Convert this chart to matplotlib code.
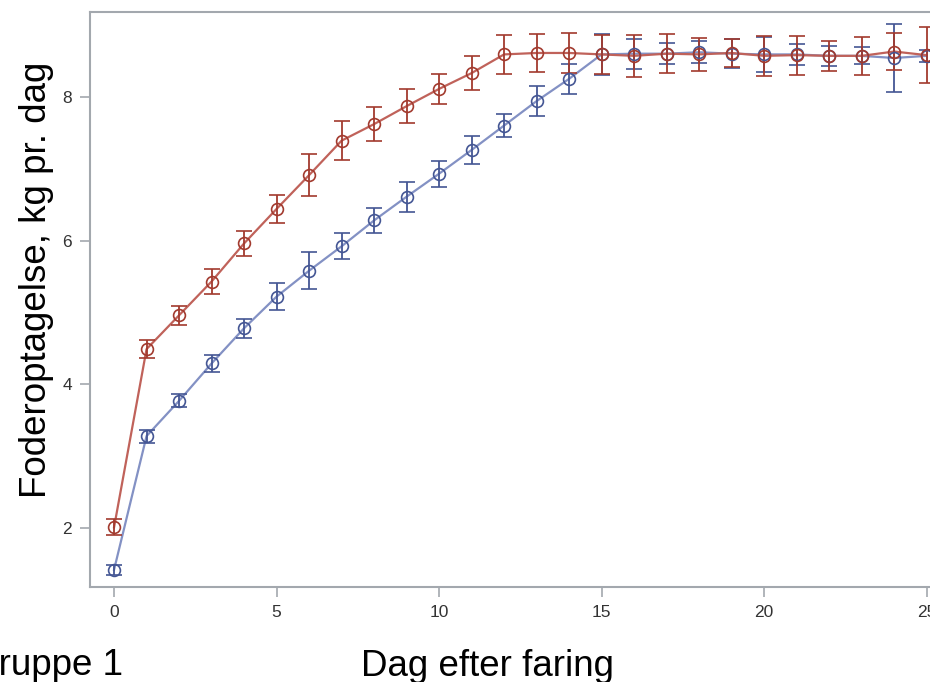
import matplotlib.pyplot as plt

plt.rcParams["font.family"] = ["Liberation Sans", "DejaVu Sans"]

# days after farrowing
days = list(range(26))

# group A (red) – mean feed intake and error half-width
red_mean = [2.01, 4.49, 4.96, 5.43, 5.96, 6.44, 6.91, 7.39, 7.62, 7.87, 8.11, 8.33, 8.59,
            8.61, 8.61, 8.59, 8.57, 8.60, 8.59, 8.61, 8.57, 8.58, 8.57, 8.57, 8.63, 8.58]
red_err = [0.11, 0.13, 0.13, 0.17, 0.18, 0.20, 0.29, 0.27, 0.24, 0.24, 0.21, 0.24, 0.27,
           0.27, 0.28, 0.27, 0.29, 0.27, 0.23, 0.20, 0.28, 0.27, 0.21, 0.26, 0.26, 0.39]

# group B (blue)
blue_mean = [1.42, 3.28, 3.77, 4.29, 4.78, 5.22, 5.58, 5.92, 6.28, 6.61, 6.93, 7.26, 7.60,
             7.94, 8.25, 8.59, 8.60, 8.60, 8.62, 8.60, 8.59, 8.59, 8.57, 8.57, 8.54, 8.57]
blue_err = [0.07, 0.09, 0.09, 0.12, 0.13, 0.19, 0.26, 0.18, 0.18, 0.21, 0.18, 0.19, 0.16,
            0.21, 0.21, 0.28, 0.21, 0.15, 0.15, 0.20, 0.24, 0.15, 0.14, 0.12, 0.47, 0.08]

BLUE, BLUE_LINE = "#445694", "#8391C4"
RED, RED_LINE = "#A23A2E", "#C0625A"
GREY = "#A3A8AE"

fig = plt.figure(figsize=(9.3, 6.82), dpi=100)
# axes run past the right edge of the figure (reference is cropped)
ax = fig.add_axes([90 / 930, 95 / 682, 860 / 930, 575 / 682])

for mean, err, col, lcol in [(blue_mean, blue_err, BLUE, BLUE_LINE),
                             (red_mean, red_err, RED, RED_LINE)]:
    ax.plot(days, mean, color=lcol, linewidth=1.6, zorder=2)
    ax.errorbar(days, mean, yerr=err, fmt="o", color=col, mfc="none", mec=col,
                markersize=8.5, mew=1.2, elinewidth=1.3, capsize=6, capthick=1.3,
                zorder=3)

ax.set_xlim(-0.74, 25.72)
ax.set_ylim(1.18, 9.18)
ax.set_xticks([0, 5, 10, 15, 20, 25])
ax.set_yticks([2, 4, 6, 8])

for s in ax.spines.values():
    s.set_color(GREY)
    s.set_linewidth(1.5)
ax.tick_params(colors=GREY, labelcolor="#333333", length=7, width=1.2,
               labelsize=12.5, pad=6)

fig.text(37 / 930, 1 - 280 / 682, "Foderoptagelse, kg pr. dag", rotation=90,
         ha="center", va="center", fontsize=26.5)
fig.text(487 / 930, 1 - 676 / 682, "Dag efter faring", ha="center",
         va="baseline", fontsize=26.5)
fig.text(123 / 930, 1 - 675 / 682, "Gruppe 1", ha="right", va="baseline",
         fontsize=26.5)

fig.savefig("out.png", dpi=100)
